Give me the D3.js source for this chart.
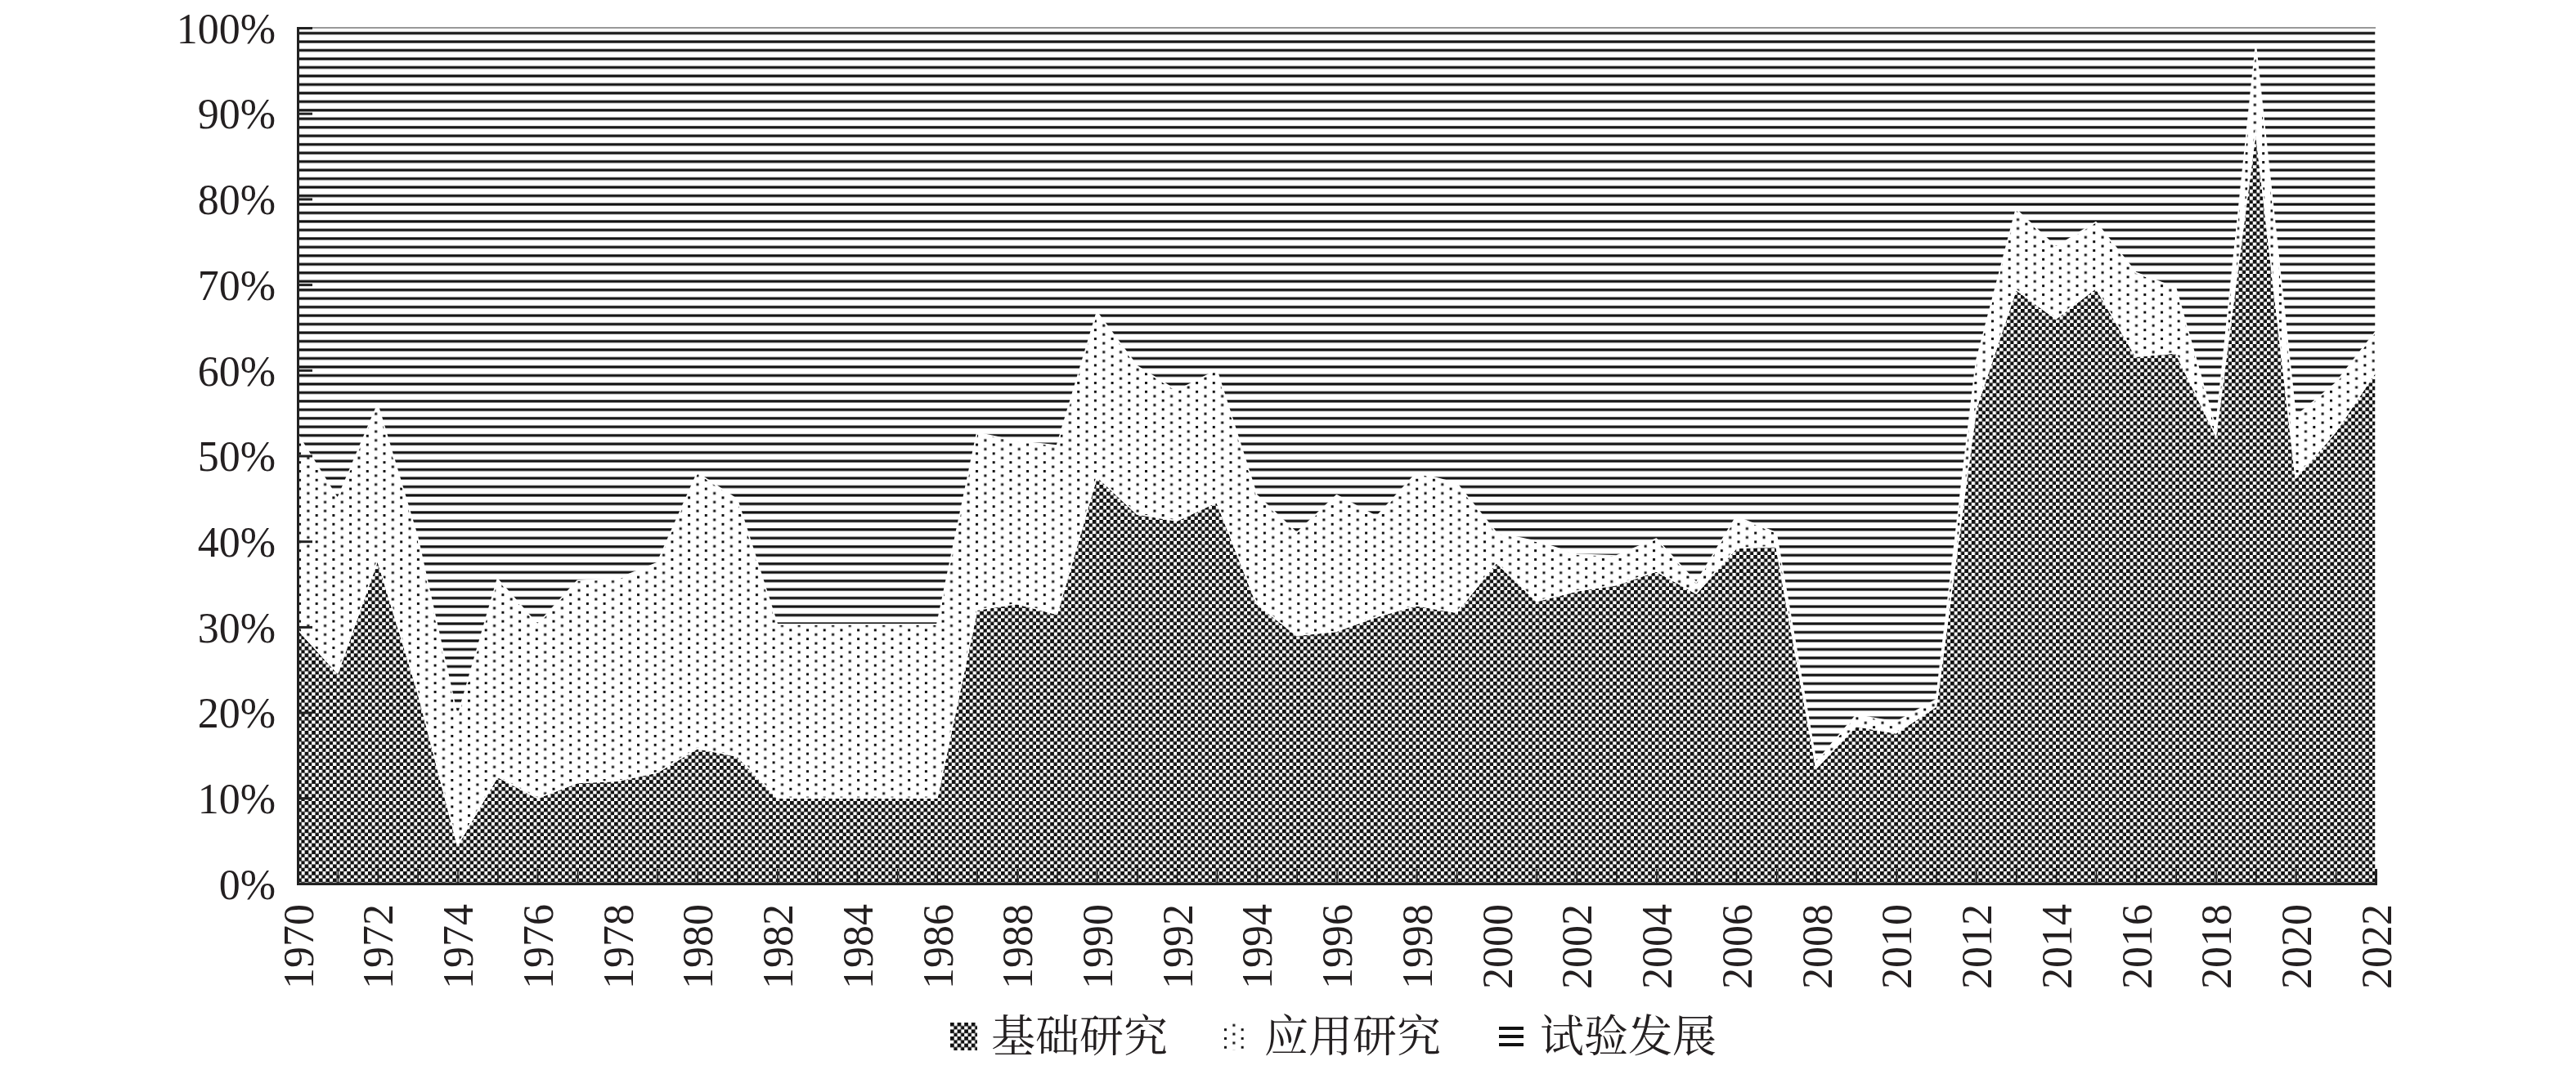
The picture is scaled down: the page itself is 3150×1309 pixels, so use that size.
<!DOCTYPE html>
<html>
<head>
<meta charset="utf-8">
<script src="https://cdn.jsdelivr.net/npm/d3@7"></script>
<style>
  body { margin: 0; background: #fff; }
  svg { display: block; }
</style>
</head>
<body>
<div id="chart"></div>
<script>
// years on the x axis
const years = d3.range(1970, 2023);

// 基础研究 share (%) per year
const basic = [
  29.7, 24.6, 37.8, 22.5, 4.5, 12.5, 10.0, 11.8, 12.0, 13.0,
  15.8, 14.9, 10.0, 10.0, 10.0, 10.0, 10.0, 32.0, 32.7, 31.5,
  47.6, 43.2, 42.4, 44.6, 32.7, 29.0, 29.5, 31.2, 32.5, 31.7,
  37.5, 33.0, 34.2, 34.9, 36.5, 33.9, 39.2, 39.4, 13.5, 18.4,
  17.6, 20.7, 55.5, 69.4, 66.0, 69.6, 61.6, 62.0, 52.4, 88.0,
  47.4, 52.8, 59.8
];

// 应用研究 share (%) per year
const applied = [
  22.8, 20.4, 18.2, 18.0, 15.0, 23.1, 20.3, 23.6, 23.6, 24.5,
  32.2, 30.0, 20.3, 20.3, 20.3, 20.3, 20.3, 20.7, 19.0, 19.7,
  19.2, 17.3, 15.2, 15.4, 12.7, 12.0, 15.9, 11.7, 15.5, 15.1,
  3.5, 7.0, 4.3, 3.4, 3.8, 1.3, 3.7, 1.6, 0.7, 1.3,
  1.3, 0.8, 5.5, 9.4, 8.4, 7.7, 9.8, 7.6, 0.8, 10.0,
  7.2, 5.7, 4.7
];

// 试验发展 is the remainder to 100%
const develop = basic.map((b, i) => +(100 - b - applied[i]).toFixed(1));

const seriesKeys = ["基础研究", "应用研究", "试验发展"];
const yTicks = [0, 10, 20, 30, 40, 50, 60, 70, 80, 90, 100];

const rows = years.map((yr, i) => ({
  year: yr,
  "基础研究": basic[i],
  "应用研究": applied[i],
  "试验发展": develop[i]
}));

const width = 3150, height = 1309;
const margin = { top: 34, right: 245, bottom: 228, left: 364 };
const plotW = width - margin.left - margin.right;
const plotH = height - margin.top - margin.bottom;

const svg = d3.select("#chart").append("svg")
  .attr("width", width)
  .attr("height", height);

// fill patterns
const defs = svg.append("defs");

const checker = defs.append("pattern")
  .attr("id", "pat-basic")
  .attr("patternUnits", "userSpaceOnUse")
  .attr("width", 8.6).attr("height", 8.6);
checker.append("rect").attr("width", 8.6).attr("height", 8.6).attr("fill", "#fff");
checker.append("rect").attr("width", 4.7).attr("height", 4.7).attr("fill", "#111");
checker.append("rect").attr("x", 4.3).attr("y", 4.3).attr("width", 4.7).attr("height", 4.7).attr("fill", "#111");

const dots = defs.append("pattern")
  .attr("id", "pat-applied")
  .attr("patternUnits", "userSpaceOnUse")
  .attr("width", 20.7).attr("height", 10.8);
dots.append("rect").attr("width", 20.7).attr("height", 10.8).attr("fill", "#fff");
dots.append("rect").attr("x", 1).attr("y", 1).attr("width", 3).attr("height", 3).attr("fill", "#111");
dots.append("rect").attr("x", 11.35).attr("y", 6.4).attr("width", 3).attr("height", 3).attr("fill", "#111");

const stripes = defs.append("pattern")
  .attr("id", "pat-develop")
  .attr("patternUnits", "userSpaceOnUse")
  .attr("width", 40).attr("height", 10.47);
stripes.append("rect").attr("width", 40).attr("height", 10.47).attr("fill", "#fff");
stripes.append("rect").attr("y", 5).attr("width", 40).attr("height", 3.2).attr("fill", "#111");

const fills = {
  "基础研究": "url(#pat-basic)",
  "应用研究": "url(#pat-applied)",
  "试验发展": "url(#pat-develop)"
};

const x = d3.scaleLinear().domain([1970, 2022]).range([0, plotW]);
const y = d3.scaleLinear().domain([0, 100]).range([plotH, 0]);

const g = svg.append("g").attr("transform", `translate(${margin.left},${margin.top})`);

const stacked = d3.stack().keys(seriesKeys)(rows);

const area = d3.area()
  .x(d => x(d.data.year))
  .y0(d => y(d[0]))
  .y1(d => y(d[1]));

g.append("g").selectAll("path")
  .data(stacked)
  .join("path")
  .attr("d", area)
  .attr("fill", d => fills[d.key])
  .attr("stroke", "#fff")
  .attr("stroke-width", 1.5)
  .attr("stroke-linejoin", "round");

// top frame line
g.append("line")
  .attr("x1", 0).attr("x2", plotW)
  .attr("y1", y(100)).attr("y2", y(100))
  .attr("stroke", "#777").attr("stroke-width", 1.5);

// y axis, ticks pointing inward
const yAxis = g.append("g")
  .call(d3.axisLeft(y).tickValues(yTicks).tickFormat(d => d + "%").tickSize(-18).tickPadding(27));
yAxis.attr("font-family", null);
yAxis.select(".domain").attr("stroke", "#222").attr("stroke-width", 3);
yAxis.selectAll(".tick line").attr("stroke", "#222").attr("stroke-width", 3);
yAxis.selectAll("text")
  .style("font-family", "'Liberation Serif', 'DejaVu Serif', serif")
  .style("font-size", "52px")
  .attr("fill", "#231f20")
  .attr("dy", "0.35em");

// x axis, one tick per year, label every 2 years
const xAxis = g.append("g")
  .attr("transform", `translate(0,${plotH})`)
  .call(d3.axisBottom(x).tickValues(years).tickFormat(d => d % 2 === 0 ? d : "").tickSize(-18).tickPadding(0));
xAxis.attr("font-family", null);
xAxis.select(".domain").attr("stroke", "#222").attr("stroke-width", 3);
xAxis.selectAll(".tick line").attr("stroke", "#222").attr("stroke-width", 1.5);
xAxis.selectAll("text")
  .style("font-family", "'Liberation Serif', 'DejaVu Serif', serif")
  .style("font-size", "52px")
  .attr("fill", "#231f20")
  .attr("text-anchor", "end")
  .attr("transform", "rotate(-90)")
  .attr("x", -25)
  .attr("y", 0)
  .attr("dy", "0.35em");

// legend
const legendItems = [
  { key: "基础研究", x: 1162 },
  { key: "应用研究", x: 1496 },
  { key: "试验发展", x: 1833 }
];
const legendY = 1268;
const legend = svg.append("g");

legendItems.forEach(item => {
  const lg = legend.append("g").attr("transform", `translate(${item.x},${legendY})`);
  if (item.key === "试验发展") {
    [-10, 0, 10].forEach(dy => {
      lg.append("rect").attr("x", 0).attr("y", dy - 2).attr("width", 30).attr("height", 4).attr("fill", "#111");
    });
  } else {
    lg.append("rect")
      .attr("x", 0).attr("y", -17)
      .attr("width", item.key === "基础研究" ? 33 : 30)
      .attr("height", 34)
      .attr("fill", fills[item.key]);
  }
  lg.append("text")
    .attr("x", 50)
    .attr("y", 0)
    .attr("dy", "0.36em")
    .style("font-family", "'Noto Serif CJK SC', 'Noto Sans CJK SC', serif")
    .style("font-size", "54px")
    .attr("fill", "#231f20")
    .text(item.key);
});
</script>
</body>
</html>
